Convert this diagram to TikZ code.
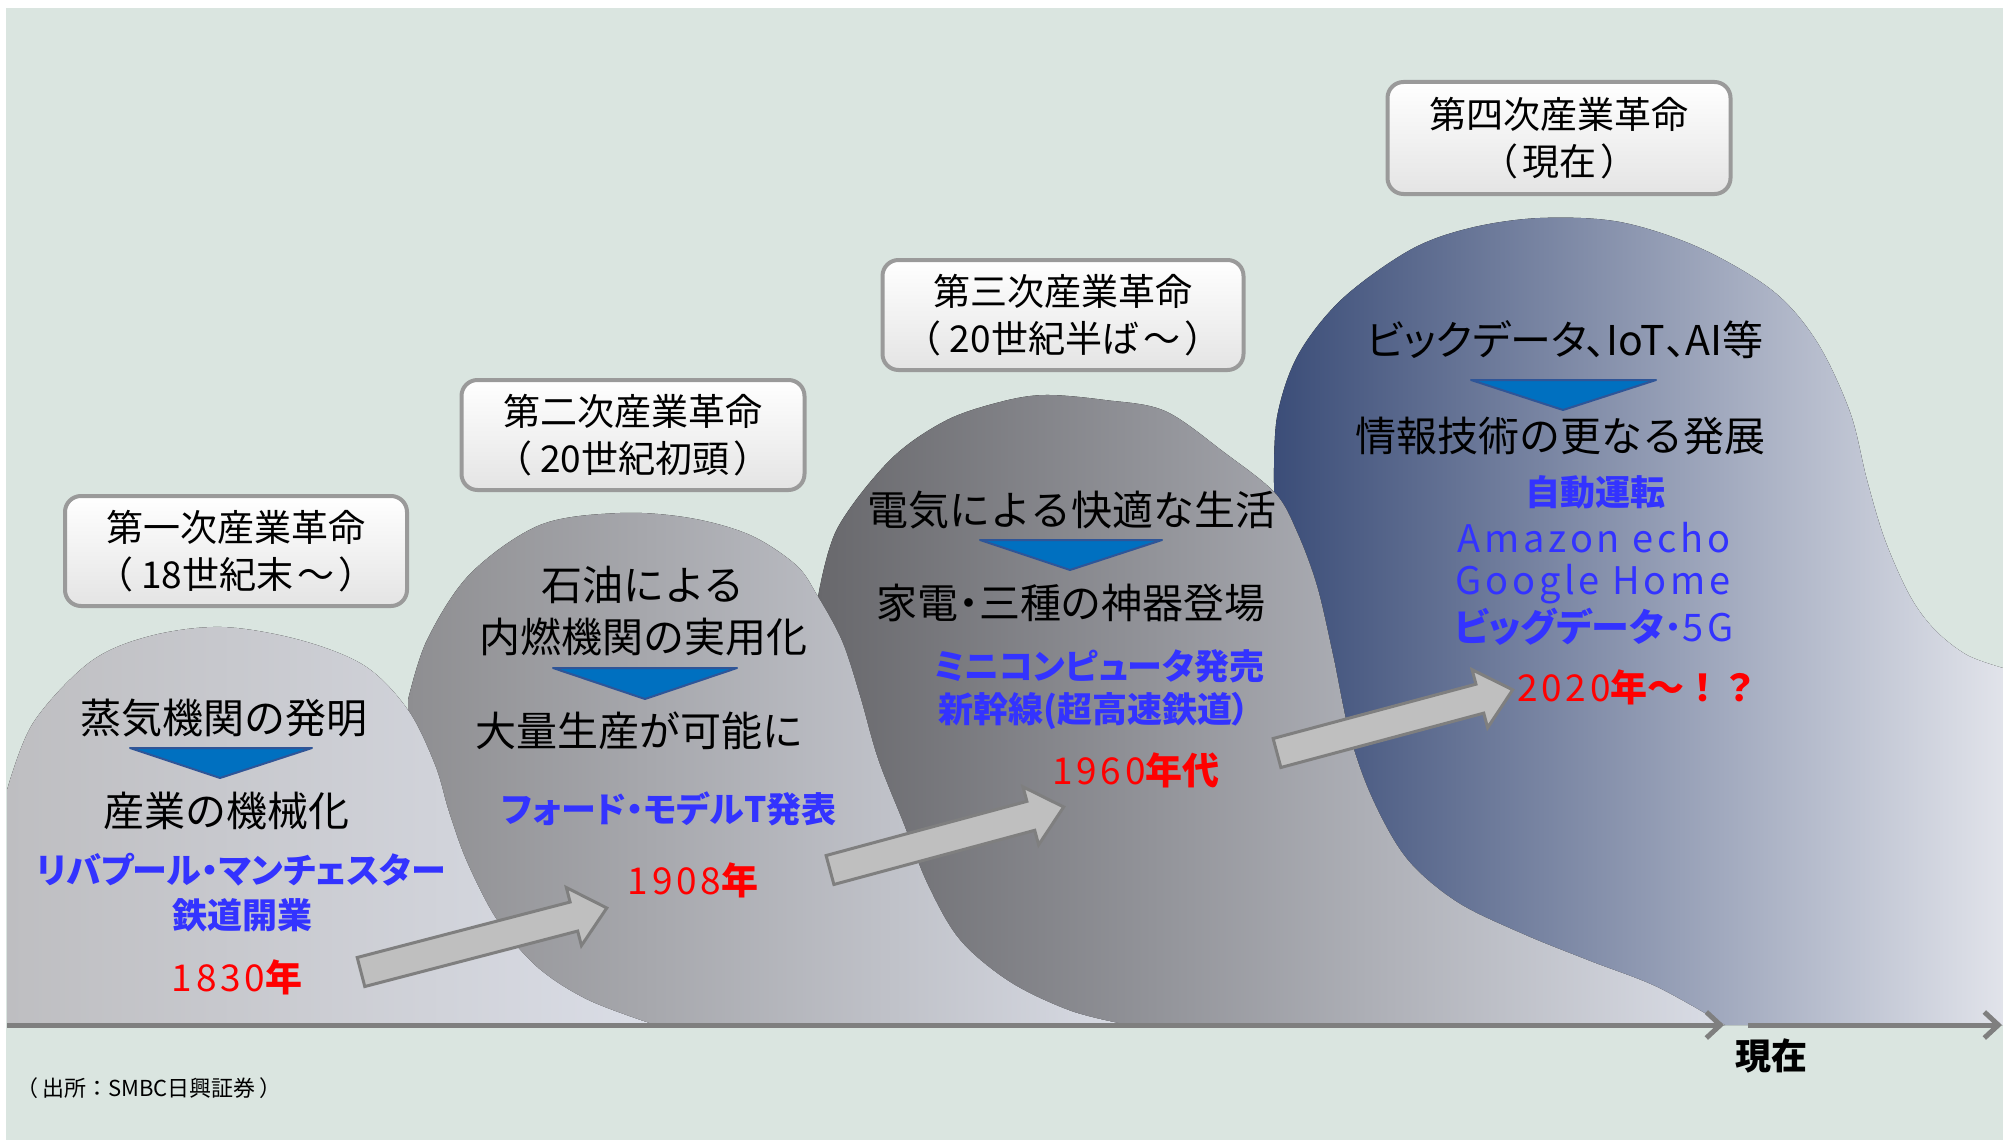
\documentclass[tikz,border=0pt]{standalone}
\usepackage{fontspec}
\setmainfont{Noto Sans CJK JP}
\newfontfamily\jp{Noto Sans CJK JP}
\newfontfamily\jpp[RawFeature=+palt]{Noto Sans CJK JP}
\newfontfamily\jpsp[LetterSpace=10]{Noto Sans CJK JP}
\usetikzlibrary{arrows.meta}
\definecolor{bgc}{HTML}{DAE5E0}
\definecolor{txtblue}{HTML}{3333FF}
\definecolor{trifill}{HTML}{0070C0}
\definecolor{triline}{HTML}{2F5597}
\definecolor{arrfill}{HTML}{BFBFBF}
\definecolor{arrline}{HTML}{7F7F7F}
\definecolor{axisc}{HTML}{7F7F7F}
\definecolor{boxline}{HTML}{9A9A9A}
\definecolor{boxbot}{HTML}{E4E4E4}
\tikzset{
  hilltext/.style={font=\jp\fontsize{41}{48}\selectfont, text=black, inner sep=0},
  hilltextp/.style={font=\jpp\fontsize{41}{48}\selectfont, text=black, inner sep=0},
  bluetext/.style={font=\jpp\bfseries\fontsize{35}{42}\selectfont, text=txtblue, inner sep=0},
  bluereg/.style={font=\jpsp\fontsize{38}{44}\selectfont, text=txtblue, inner sep=0},
  redtext/.style={font=\jp\fontsize{37}{44}\selectfont, text=red, inner sep=0},
  lbox/.style={rounded corners=16, draw=boxline, line width=4, top color=white, bottom color=boxbot,
    minimum height=110, align=center, inner sep=0, font=\jp\fontsize{37}{47}\selectfont},
  tri/.style={fill=trifill, draw=triline, line width=2, line join=round},
  arrowsty/.style={fill=arrfill, draw=arrline, line width=3, line join=miter},
  axisl/.style={draw=axisc, line width=5, -{Straight Barb[length=14pt,width=26pt]}},
}
\newcommand{\yr}[2]{{\jpsp #1}{\bfseries #2}}
% block arrow: tail x, tail y, angle, length
\newcommand{\blockarrow}[4]{%
  \begin{scope}[shift={(#1,#2)},rotate=#3]
    \draw[arrowsty] (0,-15) -- (#4-34,-15) -- (#4-34,-30) -- (#4,0) -- (#4-34,30) -- (#4-34,15) -- (0,15) -- cycle;
  \end{scope}}
\begin{document}
\begin{tikzpicture}[x=1pt,y=-1pt]
\useasboundingbox (0,0) rectangle (2003,1140);
\fill[white] (0,0) rectangle (2003,1140);
\fill[bgc] (6,8) rectangle (2003,1140);

% hill 4 (back)
\fill[left color={rgb,255:red,59;green,77;blue,120}, middle color={rgb,255:red,190;green,195;blue,209}, right color={rgb,255:red,225;green,227;blue,234}]
  (1275,1025) -- plot[smooth,tension=0.55] coordinates {(1274,484) (1277,417) (1298,355) (1342,299) (1410,250) (1470,228) (1540,218) (1620,222) (1700,248) (1773,291) (1817,342) (1850,412) (1867,480) (1885,540) (1910,596) (1935,630) (1967,655) (2003,668)} -- (2003,1025) -- cycle;
% hill 3
\fill[left color={rgb,255:red,104;green,104;blue,108}, middle color={rgb,255:red,188;green,191;blue,202}, right color={rgb,255:red,218;green,221;blue,230}]
  (820,1025) -- plot[smooth,tension=0.55] coordinates {(818,597) (837,529) (890,460) (945,421) (1000,402) (1045,395) (1105,400) (1165,411) (1225,453) (1275,493) (1297,532) (1317,586) (1333,655) (1350,736) (1373,800) (1407,859) (1457,902) (1523,934) (1590,961) (1657,987) (1725,1025)} -- cycle;
% hill 2
\fill[left color={rgb,255:red,142;green,142;blue,145}, middle color={rgb,255:red,190;green,192;blue,202}, right color={rgb,255:red,216;green,219;blue,228}]
  (410,1025) -- plot[smooth,tension=0.55] coordinates {(408,700) (427,640) (470,574) (540,525) (620,513) (690,518) (750,535) (796,565) (817,595) (842,641) (860,696) (878,759) (903,822) (928,885) (960,940) (1010,982) (1071,1011) (1128,1025)} -- cycle;
% hill 1 (front)
\fill[left color={rgb,255:red,190;green,190;blue,193}, middle color={rgb,255:red,200;green,203;blue,213}, right color={rgb,255:red,218;green,221;blue,230}]
  (7,1025) -- plot[smooth,tension=0.55] coordinates {(7,790) (33,723) (90,662) (150,636) (222,627) (300,640) (365,666) (408,710) (435,765) (449,812) (467,862) (497,920) (537,967) (588,1000) (655,1025)} -- cycle;

% axis
\coordinate (ax0) at (7,1025);
\coordinate (ax1) at (1724,1025);
\coordinate (ax2) at (1748,1025);
\coordinate (ax3) at (2002,1025);
\draw[axisl] (ax0) -- (ax1);
\draw[axisl] (ax2) -- (ax3);
\node[font=\jp\bfseries\fontsize{36}{40}\selectfont, inner sep=0] (now) at (1771,1056) {現在};
\node[font=\jp\fontsize{22}{26}\selectfont, inner sep=0, anchor=west] (src) at (16,1088) {（\hspace{4pt}出所：SMBC日興証券\hspace{4pt}）};

% label boxes
\node[lbox, minimum width=342] (box1) at (236,551) {第一次産業革命\\（\hspace{8pt}18世紀末\hspace{4pt}～\hspace{4pt}）};
\node[lbox, minimum width=343] (box2) at (633,435) {第二次産業革命\\（\hspace{8pt}20世紀初頭\hspace{4pt}）};
\node[lbox, minimum width=361] (box3) at (1063,315) {第三次産業革命\\（\hspace{8pt}20世紀半ば\hspace{4pt}～\hspace{4pt}）};
\node[lbox, minimum width=343, minimum height=112] (box4) at (1559,138) {第四次産業革命\\（\hspace{4pt}現在\hspace{4pt}）};

% block arrows
\blockarrow{361}{972}{14.6}{254}
\blockarrow{830}{870}{15.1}{242}
\blockarrow{1277}{753}{15.0}{244}

% hill 1 texts
\node[hilltext] (t11) at (224,718) {蒸気機関の発明};
\draw[tri] (130,748) -- (312,748) -- (220,778) -- cycle;
\node[hilltext] (t12) at (226,811) {産業の機械化};
\node[bluetext] (b11) at (241,870) {リバプール・マンチェスター};
\node[bluetext] (b12) at (242,915) {鉄道開業};
\node[redtext] (r1) at (237,977) {\yr{1830}{年}};

% hill 2 texts
\node[hilltext] (t21) at (643,585) {石油による};
\node[hilltext] (t22) at (643,637) {内燃機関の実用化};
\draw[tri] (553,668) -- (737,668) -- (645,699) -- cycle;
\node[hilltext] (t23) at (639,731) {大量生産が可能に};
\node[bluetext] (b21) at (669,809) {フォード・モデルT発表};
\node[redtext] (r2) at (693,880) {\yr{1908}{年}};

% hill 3 texts
\node[hilltext] (t31) at (1072,510) {電気による快適な生活};
\draw[tri] (980,540) -- (1162,540) -- (1070,570) -- cycle;
\node[hilltextp] (t32) at (1071,603) {家電・三種の神器登場};
\node[bluetext] (b31) at (1099,666) {ミニコンピュータ発売};
\node[bluetext] (b32) at (1094,711) {新幹線(超高速鉄道）};
\node[redtext] (r3) at (1136,770) {\yr{1960}{年代}};

% hill 4 texts
\node[hilltextp] (t41) at (1565,340) {ビックデータ、IoT、AI等};
\draw[tri] (1471,380) -- (1656,380) -- (1563,410) -- cycle;
\node[hilltext] (t42) at (1560,436) {情報技術の更なる発展};
\node[bluetext] (b41) at (1595,492) {自動運転};
\node[bluereg] (b42) at (1594,538) {Amazon echo};
\node[bluereg] (b43) at (1593,584) {Google Home};
\node[bluereg] (b44) at (1594,627) {{\jpp\bfseries ビッグデータ}{\jpp ・}5G};
\node[redtext] (r4) at (1638,687) {\yr{2020}{年～！？}};
\end{tikzpicture}
\end{document}
